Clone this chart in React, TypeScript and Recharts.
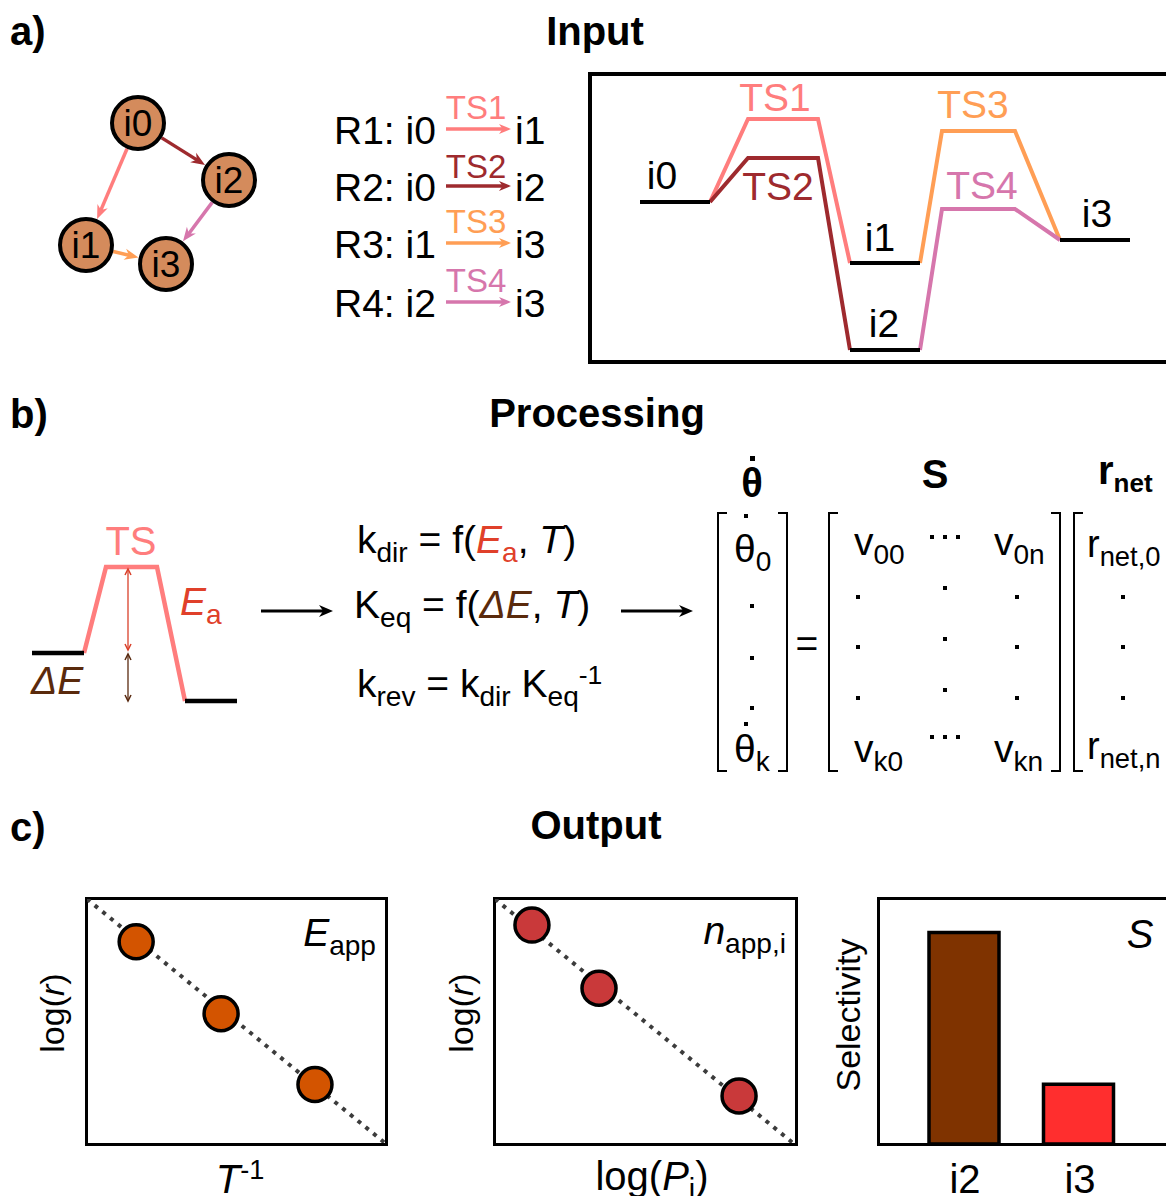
import React from 'react';
import {
  ComposedChart, LineChart, Line, Scatter, XAxis, YAxis, BarChart, Bar, Cell,
} from 'recharts';

// ---- network / energy profile data ----
const states = ['i0', 'i1', 'i2', 'i3'];
const stateEnergy = [0, -0.61, -1.48, -0.38];
const stateStage = [0, 2, 2, 4];
const tsNames = ['TS1', 'TS2', 'TS3', 'TS4'];
const tsEnergy = [0.83, 0.44, 0.71, -0.07];
const tsColors = ['#FF7D7D', '#9E2A2E', '#FF9E55', '#D676AC'];
const reactionFrom = [0, 0, 1, 2];
const reactionTo = [1, 2, 3, 3];
const stageStart = [5, 15.8, 26, 35.2, 47];
const stageEnd = [12, 22.8, 33, 42.5, 54];

// graph layout (network drawing)
const nodeX = [98, 46, 189, 126];
const nodeY = [187, 65, 130, 46];

// ---- single-step scheme (panel b) ----
const stepNames = ['IS', 'TS', 'FS'];
const stepEnergy = [0, 0.86, -0.48];
const stepStart = [3.2, 10.6, 18.5];
const stepEnd = [8.4, 15.7, 23.7];
const arrowX = 12.8;

// ---- output plots ----
const arrheniusX = [0.165, 0.45, 0.765];
const arrheniusY = [0.825, 0.53, 0.24];
const orderX = [0.124, 0.349, 0.819];
const orderY = [0.893, 0.634, 0.193];
const selCategories = ['i2', 'i3'];
const selValues = [0.78, 0.22];
const selColors = ['#7F3300', '#FF2E2E'];

const FONT = '"Liberation Sans", Arial, Helvetica, sans-serif';
const NODE_FILL = '#D48B5C';

const Sub = ({ children, size = 0.72 }: any) => (
  <span style={{ fontSize: `${size}em`, position: 'relative', top: '0.32em' }}>{children}</span>
);
const Sup = ({ children }: any) => (
  <span style={{ fontSize: '0.68em', position: 'relative', top: '-0.5em' }}>{children}</span>
);

function T({ x, y, children, size = 39, align = 'left', color = '#000', bold = false, italic = false, rotate = 0, style = {} }: any) {
  const tx = align === 'center' ? '-50%' : align === 'right' ? '-100%' : '0';
  return (
    <div
      style={{
        position: 'absolute', left: x, top: y, fontSize: size, lineHeight: 1, whiteSpace: 'nowrap',
        color, fontWeight: bold ? 700 : 400, fontStyle: italic ? 'italic' : 'normal',
        transform: `translate(${tx}, -50%)${rotate ? ` rotate(${rotate}deg)` : ''}`,
        transformOrigin: align === 'center' ? '50% 50%' : undefined,
        ...style,
      }}
    >
      {children}
    </div>
  );
}

function Dot({ x, y, s = 4 }: any) {
  return <div style={{ position: 'absolute', left: x - s / 2, top: y - s / 2, width: s, height: s, background: '#000' }} />;
}

const Ellipsis = ({ x, y }: any) => (
  <>
    <Dot x={x - 13} y={y} />
    <Dot x={x} y={y} />
    <Dot x={x + 13} y={y} />
  </>
);

function Bracket({ x, top, bottom, side }: any) {
  const b = '2px solid #000';
  return (
    <div
      style={{
        position: 'absolute', left: side === 'left' ? x : x - 10, top, width: 10, height: bottom - top,
        borderTop: b, borderBottom: b,
        borderLeft: side === 'left' ? b : 'none', borderRight: side === 'right' ? b : 'none',
        boxSizing: 'border-box',
      }}
    />
  );
}

function ArrowSvg({ x, y, len, color, width = 3.5, head = 12 }: any) {
  return (
    <svg style={{ position: 'absolute', left: x, top: y - 10, overflow: 'visible' }} width={len} height={20}>
      <line x1={0} y1={10} x2={len - head * 0.6} y2={10} stroke={color} strokeWidth={width} />
      <polygon points={`${len},10 ${len - head},${10 - head * 0.42} ${len - head * 0.7},10 ${len - head},${10 + head * 0.42}`} fill={color} />
    </svg>
  );
}

// arrow head drawn as a line "dot" at the end point
const headDot = (color: string, size = 13, open = false) => (props: any) => {
  const { cx, cy, payload, index } = props;
  if (payload == null || payload.head == null || cx == null) return <g key={`h${index}`} />;
  const deg = payload.head;
  if (open) {
    return (
      <g key={`h${index}`} transform={`translate(${cx},${cy}) rotate(${deg})`}>
        <polyline points={`${-size},${-size * 0.5} 0,0 ${-size},${size * 0.5}`} fill="none" stroke={color} strokeWidth={1.5} />
      </g>
    );
  }
  return (
    <g key={`h${index}`} transform={`translate(${cx},${cy}) rotate(${deg})`}>
      <polygon points={`${size * 0.55},0 ${-size * 0.45},${-size * 0.4} ${-size * 0.15},0 ${-size * 0.45},${size * 0.4}`} fill={color} />
    </g>
  );
};

function NetworkChart() {
  const r = 28;
  const edges = reactionFrom.map((f, k) => {
    const t = reactionTo[k];
    const dx = nodeX[t] - nodeX[f];
    const dy = nodeY[t] - nodeY[f];
    const L = Math.hypot(dx, dy);
    const ux = dx / L, uy = dy / L;
    const deg = (Math.atan2(-uy, ux) * 180) / Math.PI;
    return [
      { x: nodeX[f] + ux * r, y: nodeY[f] + uy * r },
      { x: nodeX[t] - ux * (r + 8), y: nodeY[t] - uy * (r + 8), head: deg },
    ];
  });
  const nodes = states.map((s, i) => ({ x: nodeX[i], y: nodeY[i], name: s }));
  return (
    <ComposedChart width={240} height={230} margin={{ top: 0, right: 0, bottom: 0, left: 0 }}>
      <XAxis type="number" dataKey="x" domain={[0, 240]} hide allowDataOverflow />
      <YAxis type="number" dataKey="y" domain={[0, 230]} hide allowDataOverflow />
      {edges.map((d, k) => (
        <Line key={`e${k}`} data={d} dataKey="y" type="linear" stroke={tsColors[k]} strokeWidth={3.5}
          dot={headDot(tsColors[k], 14)} activeDot={false} isAnimationActive={false} />
      ))}
      <Scatter
        data={nodes}
        isAnimationActive={false}
        shape={(p: any) => (
          <g>
            <circle cx={p.cx} cy={p.cy} r={26} fill={NODE_FILL} stroke="#000" strokeWidth={4} />
            <text x={p.cx} y={p.cy + 13} textAnchor="middle" fontSize={37} fontFamily={FONT} fill="#000">
              {p.payload.name}
            </text>
          </g>
        )}
      />
    </ComposedChart>
  );
}

function EnergyProfile() {
  const levels = states.map((_, i) => [
    { x: stageStart[stateStage[i]], y: stateEnergy[i] },
    { x: stageEnd[stateStage[i]], y: stateEnergy[i] },
  ]);
  const paths = tsNames.map((_, k) => {
    const f = reactionFrom[k], t = reactionTo[k];
    const s = stateStage[f] + 1;
    return [
      { x: stageEnd[stateStage[f]], y: stateEnergy[f] },
      { x: stageStart[s], y: tsEnergy[k] },
      { x: stageEnd[s], y: tsEnergy[k] },
      { x: stageStart[stateStage[t]], y: stateEnergy[t] },
    ];
  });
  return (
    <LineChart width={600} height={288} margin={{ top: 0, right: 0, bottom: 0, left: 0 }}>
      <XAxis type="number" dataKey="x" domain={[0, 60]} hide allowDataOverflow />
      <YAxis type="number" domain={[-1.6, 1.28]} hide allowDataOverflow />
      {paths.map((d, k) => (
        <Line key={`p${k}`} data={d} dataKey="y" type="linear" stroke={tsColors[k]} strokeWidth={4}
          dot={false} activeDot={false} isAnimationActive={false} />
      ))}
      {levels.map((d, i) => (
        <Line key={`l${i}`} data={d} dataKey="y" type="linear" stroke="#000" strokeWidth={4}
          dot={false} activeDot={false} isAnimationActive={false} />
      ))}
    </LineChart>
  );
}

function StepProfile() {
  const lv = stepNames.map((_, i) => [
    { x: stepStart[i], y: stepEnergy[i] },
    { x: stepEnd[i], y: stepEnergy[i] },
  ]);
  const ts = [
    { x: stepEnd[0], y: stepEnergy[0] },
    { x: stepStart[1], y: stepEnergy[1] },
    { x: stepEnd[1], y: stepEnergy[1] },
    { x: stepStart[2], y: stepEnergy[2] },
  ];
  const ea = [
    { x: arrowX, y: stepEnergy[1] - 0.02, head: -90 },
    { x: arrowX, y: stepEnergy[0] + 0.03, head: 90 },
  ];
  const de = [
    { x: arrowX, y: stepEnergy[0] - 0.01, head: -90 },
    { x: arrowX, y: stepEnergy[2], head: 90 },
  ];
  return (
    <LineChart width={260} height={200} margin={{ top: 0, right: 0, bottom: 0, left: 0 }}>
      <XAxis type="number" dataKey="x" domain={[0, 26]} hide allowDataOverflow />
      <YAxis type="number" domain={[-0.67, 1.33]} hide allowDataOverflow />
      <Line data={ts} dataKey="y" type="linear" stroke="#FF7D7D" strokeWidth={4.5} dot={false} activeDot={false} isAnimationActive={false} />
      {lv.map((d, i) => i !== 1 && (
        <Line key={`s${i}`} data={d} dataKey="y" type="linear" stroke="#000" strokeWidth={4.5} dot={false} activeDot={false} isAnimationActive={false} />
      ))}
      <Line data={ea} dataKey="y" type="linear" stroke="#D9402A" strokeWidth={1.3} dot={headDot('#D9402A', 6, true)} activeDot={false} isAnimationActive={false} />
      <Line data={de} dataKey="y" type="linear" stroke="#5A2A10" strokeWidth={1.3} dot={headDot('#5A2A10', 6, true)} activeDot={false} isAnimationActive={false} />
    </LineChart>
  );
}

function ParityPlot({ xs, ys, fill }: any) {
  const pts = xs.map((x: number, i: number) => ({ x, y: ys[i] }));
  const diag = [{ x: 0, y: 1 }, { x: 1, y: 0 }];
  return (
    <ComposedChart width={298} height={244} margin={{ top: 0, right: 0, bottom: 0, left: 0 }}>
      <XAxis type="number" dataKey="x" domain={[0, 1]} hide allowDataOverflow />
      <YAxis type="number" dataKey="y" domain={[0, 1]} hide allowDataOverflow />
      <Line data={diag} dataKey="y" type="linear" stroke="#3C3C3C" strokeWidth={4} strokeDasharray="4 6"
        dot={false} activeDot={false} isAnimationActive={false} />
      <Scatter data={pts} isAnimationActive={false}
        shape={(p: any) => <circle cx={p.cx} cy={p.cy} r={17} fill={fill} stroke="#000" strokeWidth={3.5} />} />
    </ComposedChart>
  );
}

function SelectivityBars() {
  const data = selCategories.map((c, i) => ({ name: c, value: selValues[i] }));
  return (
    <BarChart width={229} height={244} data={data} margin={{ top: 0, right: 0, bottom: 0, left: 0 }}>
      <XAxis dataKey="name" hide />
      <YAxis domain={[0, 0.9]} hide allowDataOverflow />
      <Bar dataKey="value" barSize={70} stroke="#000" strokeWidth={3.5} isAnimationActive={false}>
        {data.map((_, i) => <Cell key={i} fill={selColors[i]} />)}
      </Bar>
    </BarChart>
  );
}

const box = (left: number, top: number, width: number, height: number, bw = 4): React.CSSProperties => ({
  position: 'absolute', left, top, width, height, border: `${bw}px solid #000`, boxSizing: 'border-box',
});

export default function App() {
  const rowY = [130, 187, 244, 303];
  const labY = [107, 166, 221, 280];
  const energyLabelPos = [[662, 175], [880, 237], [884, 323], [1097, 213]];
  const tsLabelPos = [[775, 97], [778, 186], [973, 104], [982, 185]];
  return (
    <div style={{ position: 'relative', width: 1166, height: 1196, overflow: 'hidden', fontFamily: FONT, background: '#fff' }}>
      <style>{'html,body{margin:0;padding:0;overflow:hidden;background:#fff}'}</style>

      {/* ---------------- a) Input ---------------- */}
      <T x={10} y={31} size={40} bold>a)</T>
      <T x={595} y={31} size={40} bold align="center">Input</T>

      <div style={{ position: 'absolute', left: 40, top: 80 }}><NetworkChart /></div>

      {tsNames.map((ts, k) => (
        <React.Fragment key={ts}>
          <T x={334} y={rowY[k]}>{`R${k + 1}: ${states[reactionFrom[k]]}`}</T>
          <T x={476} y={labY[k]} size={33} align="center" color={tsColors[k]}>{ts}</T>
          <ArrowSvg x={446} y={rowY[k] - 1} len={65} color={tsColors[k]} />
          <T x={515} y={rowY[k]}>{states[reactionTo[k]]}</T>
        </React.Fragment>
      ))}

      <div style={box(588, 72, 640, 292)} />
      <div style={{ position: 'absolute', left: 590, top: 74 }}><EnergyProfile /></div>
      {states.map((s, i) => (
        <T key={s} x={energyLabelPos[i][0]} y={energyLabelPos[i][1]} align="center">{s}</T>
      ))}
      {tsNames.map((s, k) => (
        <T key={s} x={tsLabelPos[k][0]} y={tsLabelPos[k][1]} align="center" color={tsColors[k]}>{s}</T>
      ))}

      {/* ---------------- b) Processing ---------------- */}
      <T x={10} y={414} size={40} bold>b)</T>
      <T x={597} y={413} size={40} bold align="center">Processing</T>

      <div style={{ position: 'absolute', left: 0, top: 520 }}><StepProfile /></div>
      <T x={131} y={541} size={40} align="center" color="#FF7D7D">TS</T>
      <T x={180} y={601} color="#E0402A"><i>E</i><Sub>a</Sub></T>
      <T x={31} y={680} color="#5A2A0C" italic>ΔE</T>

      <ArrowSvg x={261} y={611} len={72} color="#000" width={3} head={14} />
      <ArrowSvg x={621} y={611} len={72} color="#000" width={3} head={14} />

      <T x={357} y={539}>k<Sub>dir</Sub> = f(<span style={{ color: '#E0402A' }}><i>E</i><Sub>a</Sub></span>, <i>T</i>)</T>
      <T x={354} y={604}>K<Sub>eq</Sub> = f(<i style={{ color: '#5A2A0C' }}>ΔE</i>, <i>T</i>)</T>
      <T x={357} y={683}>k<Sub>rev</Sub> = k<Sub>dir</Sub> K<Sub>eq</Sub><Sup>-1</Sup></T>

      {/* matrix equation */}
      <T x={752} y={483} size={40} bold align="center">θ</T>
      <Dot x={752} y={458} s={5} />
      <T x={935} y={474} size={40} bold align="center">S</T>
      <T x={1098} y={470} size={40} bold>r<Sub size={0.65}>net</Sub></T>

      <Bracket x={717} top={512} bottom={772} side="left" />
      <Bracket x={788} top={512} bottom={772} side="right" />
      <T x={734} y={548}>θ<Sub>0</Sub></T>
      <Dot x={746} y={516} />
      <Dot x={752} y={606} />
      <Dot x={752} y={658} />
      <Dot x={752} y={708} />
      <Dot x={746} y={724} />
      <T x={734} y={748}>θ<Sub>k</Sub></T>

      <T x={807} y={643} align="center">=</T>

      <Bracket x={828} top={512} bottom={772} side="left" />
      <Bracket x={1061} top={512} bottom={772} side="right" />
      <T x={854} y={541}>v<Sub>00</Sub></T>
      <Ellipsis x={945} y={537} />
      <T x={994} y={541}>v<Sub>0n</Sub></T>
      {[597, 647, 698].map(y => <Dot key={`c1${y}`} x={858} y={y} />)}
      {[588, 639, 690].map(y => <Dot key={`c2${y}`} x={945} y={y} />)}
      {[597, 647, 698].map(y => <Dot key={`c3${y}`} x={1017} y={y} />)}
      <T x={854} y={748}>v<Sub>k0</Sub></T>
      <Ellipsis x={945} y={737} />
      <T x={994} y={748}>v<Sub>kn</Sub></T>

      <Bracket x={1073} top={512} bottom={772} side="left" />
      <Bracket x={1186} top={512} bottom={772} side="right" />
      <T x={1087} y={544} size={38}>r<Sub>net,0</Sub></T>
      {[597, 647, 698].map(y => <Dot key={`c4${y}`} x={1123} y={y} />)}
      <T x={1087} y={746} size={38}>r<Sub>net,n</Sub></T>

      {/* ---------------- c) Output ---------------- */}
      <T x={10} y={827} size={40} bold>c)</T>
      <T x={596} y={825} size={40} bold align="center">Output</T>

      <div style={box(85, 897, 303, 249, 3.5)} />
      <div style={{ position: 'absolute', left: 87, top: 899 }}>
        <ParityPlot xs={arrheniusX} ys={arrheniusY} fill="#D35400" />
      </div>
      <T x={376} y={932} align="right"><i>E</i><Sub>app</Sub></T>
      <T x={52} y={1013} size={34} align="center" rotate={-90}>log(<i>r</i>)</T>
      <T x={240} y={1179} size={40} align="center"><i>T</i><Sup>-1</Sup></T>

      <div style={box(493, 897, 305, 249, 3.5)} />
      <div style={{ position: 'absolute', left: 495, top: 899 }}>
        <ParityPlot xs={orderX} ys={orderY} fill="#C9393A" />
      </div>
      <T x={786} y={930} align="right"><i>n</i><Sub>app,i</Sub></T>
      <T x={461} y={1013} size={34} align="center" rotate={-90}>log(<i>r</i>)</T>
      <T x={652} y={1176} size={40} align="center">log(<i>P</i><Sub>i</Sub>)</T>

      <div style={box(877, 897, 400, 249, 3.5)} />
      <div style={{ position: 'absolute', left: 907, top: 900 }}><SelectivityBars /></div>
      <T x={1140} y={934} size={40} italic align="center">S</T>
      <T x={848} y={1015} size={34} align="center" rotate={-90}>Selectivity</T>
      {selCategories.map((c, i) => (
        <T key={c} x={965 + i * 115} y={1179} size={40} align="center">{c}</T>
      ))}
    </div>
  );
}
